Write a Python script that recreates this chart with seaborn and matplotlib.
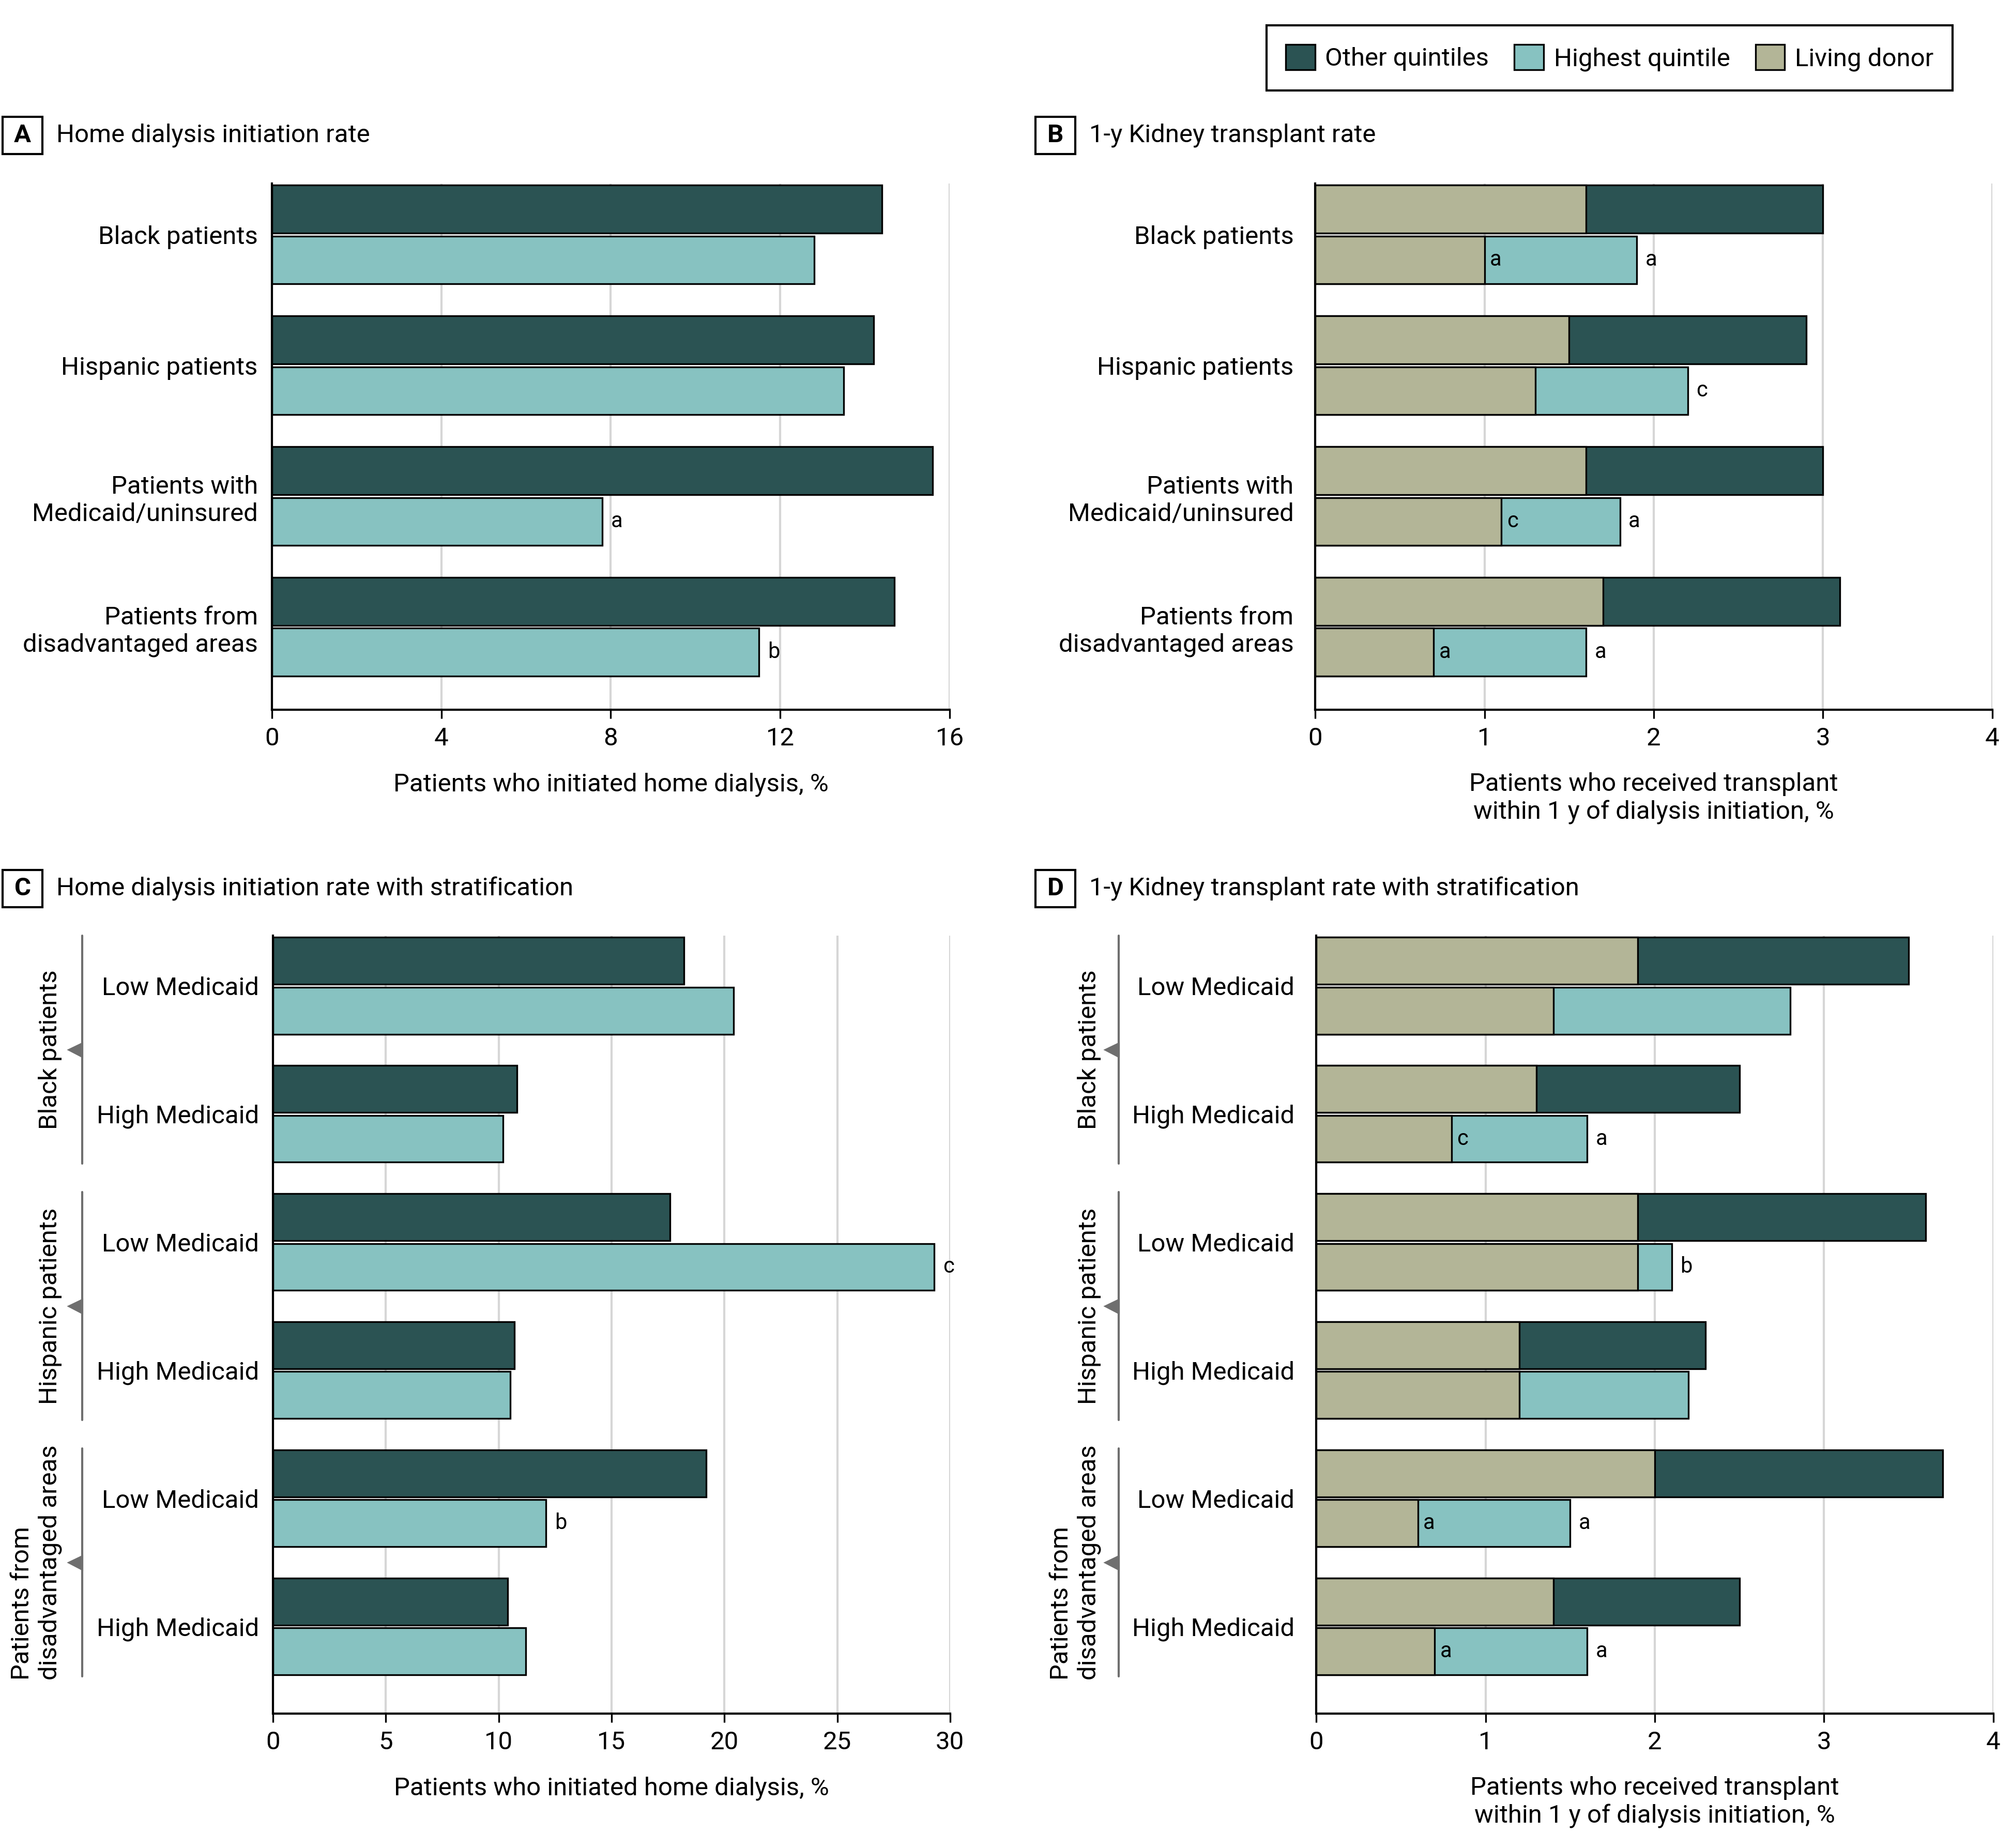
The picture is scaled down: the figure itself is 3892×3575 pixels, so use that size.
import pandas as pd
import seaborn as sns
import matplotlib.pyplot as plt
from matplotlib import transforms
from matplotlib.patches import Patch, Rectangle

sns.set_theme(style="ticks", rc={
    "axes.edgecolor": "black", "text.color": "black", "axes.labelcolor": "black",
    "xtick.color": "black", "ytick.color": "black",
})
plt.rcParams["font.family"] = ["Roboto", "DejaVu Sans"]

OTHER = "#2b5353"
HIGH = "#87c2c1"
LIVING = "#b3b597"
GRID = "#d6d6d6"
BRACKET = "#6f6f6f"
FS = 11.8
FS_MARK = 10
BAR_W = 0.78

series = ["Other quintiles", "Highest quintile"]

# A / B rows
groups = ["Black patients", "Hispanic patients", "Patients with\nMedicaid/uninsured",
          "Patients from\ndisadvantaged areas"]

# A: home dialysis initiation, %
home_other = [14.4, 14.2, 15.6, 14.7]
home_high = [12.8, 13.5, 7.8, 11.5]
home_marks = ["", "", "a", "b"]

# B: 1-y transplant, % (total bar and living donor part)
tx_other_total = [3.0, 2.9, 3.0, 3.1]
tx_other_living = [1.6, 1.5, 1.6, 1.7]
tx_high_total = [1.9, 2.2, 1.8, 1.6]
tx_high_living = [1.0, 1.3, 1.1, 0.7]
tx_marks_in = ["a", "", "c", "a"]
tx_marks_end = ["a", "c", "a", "a"]

# C / D rows
strata = ["Black patients", "Hispanic patients", "Patients from\ndisadvantaged areas"]
medicaid = ["Low Medicaid", "High Medicaid"]

strat_home_other = [18.2, 10.8, 17.6, 10.7, 19.2, 10.4]
strat_home_high = [20.4, 10.2, 29.3, 10.5, 12.1, 11.2]
strat_home_marks = ["", "", "c", "", "b", ""]

strat_tx_other_total = [3.5, 2.5, 3.6, 2.3, 3.7, 2.5]
strat_tx_other_living = [1.9, 1.3, 1.9, 1.2, 2.0, 1.4]
strat_tx_high_total = [2.8, 1.6, 2.1, 2.2, 1.5, 1.6]
strat_tx_high_living = [1.4, 0.8, 1.9, 1.2, 0.6, 0.7]
strat_tx_marks_in = ["", "c", "", "", "a", "a"]
strat_tx_marks_end = ["", "a", "b", "", "a", "a"]

strat_rows = [f"{s}|{m}" for s in strata for m in medicaid]
strat_ticks = [m for s in strata for m in medicaid]


def long_frame(rows, other, high):
    return pd.DataFrame({
        "row": rows * 2,
        "series": [series[0]] * len(rows) + [series[1]] * len(rows),
        "value": list(other) + list(high),
    })


def draw_bars(ax, rows, other, high, palette):
    n0 = len(ax.containers)
    sns.barplot(data=long_frame(rows, other, high), x="value", y="row", hue="series",
                hue_order=series, order=rows, palette=palette, saturation=1, orient="h",
                width=BAR_W, gap=0.06, edgecolor="black", linewidth=0.8,
                errorbar=None, legend=False, ax=ax, zorder=2)
    return ax.containers[n0:]


def mark(ax, container, values, marks, dx):
    for bar, v, m in zip(container, values, marks):
        if m:
            ax.annotate(m, xy=(v, bar.get_y() + bar.get_height() / 2),
                        xytext=(dx, 0), textcoords="offset points",
                        ha="left", va="center", fontsize=FS_MARK)


def style(ax, xmax, step, xlabel, n, bottom_pad, ypad):
    ax.set_xlim(0, xmax)
    ax.set_xticks(range(0, xmax + 1, step))
    ax.set_ylim(n - 1 + BAR_W / 2 + bottom_pad, -BAR_W / 2)
    ax.set_axisbelow(True)
    ax.grid(axis="x", color=GRID, lw=1.0)
    ax.grid(axis="y", visible=False)
    sns.despine(ax=ax)
    ax.spines["left"].set_linewidth(1.0)
    ax.spines["bottom"].set_linewidth(1.0)
    ax.tick_params(axis="x", length=4, width=0.8, pad=4, labelsize=FS)
    ax.tick_params(axis="y", length=0, pad=ypad, labelsize=FS)
    ax.set_ylabel("")
    ax.set_xlabel(xlabel, fontsize=FS, labelpad=10, linespacing=1.2)


def panel_title(fig, x_box, y_box, letter, title):
    w, h = 0.0198, 0.0201
    fig.add_artist(Rectangle((x_box, y_box), w, h, transform=fig.transFigure,
                             fill=False, ec="black", lw=1.0))
    fig.text(x_box + w / 2, y_box + h / 2, letter, ha="center", va="center",
             fontsize=FS, weight="bold")
    fig.text(x_box + 0.0267, y_box + h / 2, title, ha="left", va="center", fontsize=FS)


def strata_brackets(ax, line_x, label_x):
    trans = transforms.blended_transform_factory(ax.transAxes, ax.transData)
    half = BAR_W / 2
    for g, name in enumerate(strata):
        top, bot = 2 * g - half, 2 * g + 1 + half
        ax.plot([line_x, line_x], [top, bot], color=BRACKET, lw=1.0,
                transform=trans, clip_on=False)
        ax.plot([line_x - 0.0095], [2 * g + 0.5], marker="<", ms=6, color=BRACKET,
                mec=BRACKET, transform=trans, clip_on=False)
        ax.text(label_x, 2 * g + 0.5, name, rotation=90, ha="right", va="center",
                multialignment="left", transform=trans, fontsize=FS)


fig = plt.figure(figsize=(3892 / 300, 3575 / 300), dpi=300)
axA = fig.add_axes([0.1351, 0.6159, 0.3369, 0.2848])
axB = fig.add_axes([0.6537, 0.6159, 0.3365, 0.2848])
axC = fig.add_axes([0.1357, 0.0727, 0.3365, 0.4210])
axD = fig.add_axes([0.6542, 0.0727, 0.3365, 0.4210])

tx_label = "Patients who received transplant\nwithin 1 y of dialysis initiation, %"
home_label = "Patients who initiated home dialysis, %"

# A
cont = draw_bars(axA, groups, home_other, home_high, [OTHER, HIGH])
mark(axA, cont[1], home_high, home_marks, 4)
style(axA, 16, 4, home_label, 4, 0.245, 6.5)

# B
draw_bars(axB, groups, tx_other_total, tx_high_total, [OTHER, HIGH])
cont = draw_bars(axB, groups, tx_other_living, tx_high_living, [LIVING, LIVING])
mark(axB, cont[1], tx_high_living, tx_marks_in, 2.5)
mark(axB, cont[1], tx_high_total, tx_marks_end, 4)
style(axB, 4, 1, tx_label, 4, 0.245, 10)

# C
cont = draw_bars(axC, strat_rows, strat_home_other, strat_home_high, [OTHER, HIGH])
mark(axC, cont[1], strat_home_high, strat_home_marks, 4)
style(axC, 30, 5, home_label, 6, 0.29, 6.5)
axC.set_yticks(range(len(strat_rows)))
axC.set_yticklabels(strat_ticks)
strata_brackets(axC, -0.282, -0.312)

# D
draw_bars(axD, strat_rows, strat_tx_other_total, strat_tx_high_total, [OTHER, HIGH])
cont = draw_bars(axD, strat_rows, strat_tx_other_living, strat_tx_high_living, [LIVING, LIVING])
mark(axD, cont[1], strat_tx_high_living, strat_tx_marks_in, 2.5)
mark(axD, cont[1], strat_tx_high_total, strat_tx_marks_end, 4)
style(axD, 4, 1, tx_label, 6, 0.29, 10)
axD.set_yticks(range(len(strat_rows)))
axD.set_yticklabels(strat_ticks)
strata_brackets(axD, -0.292, -0.318)

panel_title(fig, 0.0013, 0.9166, "A", "Home dialysis initiation rate")
panel_title(fig, 0.5147, 0.9166, "B", "1-y Kidney transplant rate")
panel_title(fig, 0.0013, 0.5091, "C", "Home dialysis initiation rate with stratification")
panel_title(fig, 0.5147, 0.5091, "D", "1-y Kidney transplant rate with stratification")

handles = [Patch(fc=c, ec="black", lw=0.8, label=l)
           for c, l in zip([OTHER, HIGH, LIVING], ["Other quintiles", "Highest quintile", "Living donor"])]
leg = fig.legend(handles=handles, loc="center", bbox_to_anchor=(0.800, 0.9687), ncol=3,
                 frameon=True, fancybox=False, edgecolor="black", framealpha=1,
                 fontsize=FS, handlelength=1.15, handleheight=1.15, handletextpad=0.4,
                 columnspacing=1.0, borderpad=0.75)
leg.get_frame().set_linewidth(1.0)

fig.savefig("out.png", dpi=300)
